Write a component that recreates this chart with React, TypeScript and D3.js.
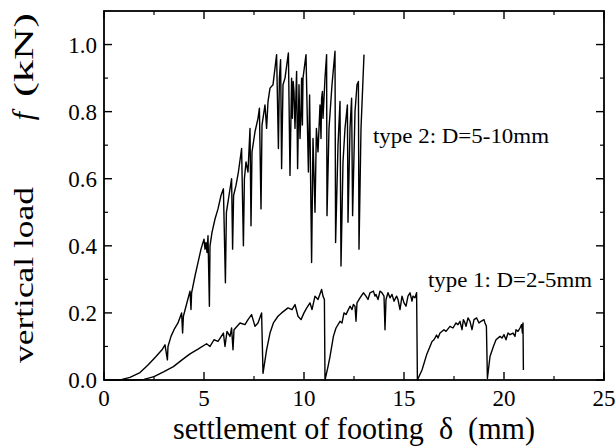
import React from "react";
import * as d3 from "d3";

// [settlement (mm), load (kN)] for type 2: D=5-10mm
const type2Points: [number, number][] = [
  [0, 0], [0.5, 0], [0.9, 0.002], [1.3, 0.008], [1.8, 0.022], [2.2, 0.045], [2.6, 0.07], [2.9, 0.09],
  [3.05, 0.105], [3.17, 0.06], [3.2, 0.1], [3.35, 0.13], [3.5, 0.15], [3.7, 0.17], [3.88, 0.2], [3.93, 0.14],
  [3.97, 0.19], [4.1, 0.22], [4.3, 0.265], [4.35, 0.21], [4.38, 0.26], [4.55, 0.31], [4.7, 0.35], [4.85, 0.39],
  [5.0, 0.42], [5.05, 0.39], [5.1, 0.41], [5.15, 0.38], [5.2, 0.43], [5.27, 0.22], [5.3, 0.4], [5.4, 0.44],
  [5.55, 0.48], [5.7, 0.51], [5.85, 0.55], [5.97, 0.57], [6.07, 0.29], [6.12, 0.5], [6.25, 0.55], [6.38, 0.6],
  [6.43, 0.39], [6.48, 0.55], [6.6, 0.58], [6.72, 0.62], [6.88, 0.69], [6.97, 0.4], [7.02, 0.6], [7.1, 0.65],
  [7.2, 0.62], [7.3, 0.75], [7.35, 0.46], [7.4, 0.68], [7.55, 0.74], [7.7, 0.78], [7.77, 0.81], [7.85, 0.51],
  [7.9, 0.76], [8.05, 0.82], [8.13, 0.75], [8.2, 0.83], [8.3, 0.87], [8.45, 0.88], [8.63, 0.97], [8.72, 0.69],
  [8.77, 0.9], [8.83, 0.955], [8.88, 0.63], [8.95, 0.88], [9.05, 0.9], [9.22, 0.975], [9.3, 0.61], [9.38, 0.9],
  [9.42, 0.78], [9.46, 0.89], [9.5, 0.86], [9.55, 0.75], [9.63, 0.92], [9.68, 0.63], [9.75, 0.88], [9.8, 0.72],
  [9.85, 0.8], [9.88, 0.9], [9.92, 0.76], [9.95, 0.9], [10.1, 0.97], [10.22, 0.62], [10.28, 0.85], [10.38, 0.35],
  [10.45, 0.72], [10.55, 0.5], [10.62, 0.75], [10.7, 0.68], [10.8, 0.82], [10.85, 0.72], [10.88, 0.84], [10.92, 0.86],
  [10.95, 0.78], [11.05, 0.9], [11.13, 0.97], [11.15, 0.49], [11.25, 0.75], [11.4, 0.88], [11.55, 0.98], [11.58, 0.41],
  [11.7, 0.7], [11.8, 0.83], [11.85, 0.34], [11.95, 0.65], [12.05, 0.75], [12.17, 0.82], [12.2, 0.47], [12.3, 0.75],
  [12.38, 0.84], [12.43, 0.49], [12.55, 0.8], [12.65, 0.88], [12.72, 0.89], [12.75, 0.39], [12.85, 0.75], [13.0, 0.97],
];

// [settlement (mm), load (kN)] for type 1: D=2-5mm
const type1Points: [number, number][] = [
  [0, 0], [1.5, 0], [2.0, 0.002], [2.5, 0.01], [3.0, 0.025], [3.47, 0.04], [3.9, 0.06], [4.3, 0.078],
  [4.7, 0.092], [5.13, 0.108], [5.3, 0.1], [5.5, 0.12], [5.7, 0.115], [5.97, 0.14], [6.05, 0.1], [6.15, 0.145],
  [6.3, 0.13], [6.38, 0.155], [6.45, 0.09], [6.5, 0.15], [6.8, 0.17], [7.05, 0.165], [7.2, 0.18], [7.38, 0.195],
  [7.55, 0.16], [7.7, 0.17], [7.88, 0.2], [7.95, 0.02], [8.13, 0.09], [8.3, 0.14], [8.47, 0.17], [8.7, 0.19],
  [8.88, 0.2], [9.2, 0.215], [9.4, 0.21], [9.55, 0.225], [9.7, 0.19], [9.85, 0.18], [10.0, 0.2], [10.13, 0.214],
  [10.3, 0.23], [10.4, 0.21], [10.55, 0.25], [10.7, 0.24], [10.88, 0.27], [10.95, 0.25], [11.02, 0.24], [11.05, 0.0],
  [11.2, 0.04], [11.3, 0.07], [11.47, 0.13], [11.6, 0.155], [11.8, 0.175], [11.9, 0.17], [12.0, 0.2], [12.1, 0.195],
  [12.3, 0.22], [12.4, 0.21], [12.47, 0.225], [12.55, 0.22], [12.6, 0.175], [12.65, 0.23], [12.8, 0.245], [12.97, 0.26],
  [13.1, 0.25], [13.2, 0.24], [13.3, 0.26], [13.47, 0.265], [13.55, 0.25], [13.6, 0.255], [13.7, 0.24], [13.8, 0.265],
  [13.9, 0.26], [14.0, 0.25], [14.05, 0.15], [14.1, 0.24], [14.2, 0.26], [14.3, 0.245], [14.4, 0.255], [14.5, 0.235],
  [14.63, 0.25], [14.7, 0.24], [14.8, 0.21], [14.9, 0.25], [15.0, 0.23], [15.1, 0.22], [15.2, 0.25], [15.3, 0.26],
  [15.4, 0.235], [15.45, 0.25], [15.55, 0.245], [15.63, 0.26], [15.67, 0.0], [15.9, 0.03], [16.13, 0.075], [16.3, 0.1],
  [16.4, 0.115], [16.5, 0.12], [16.63, 0.134], [16.7, 0.125], [16.8, 0.14], [17.0, 0.15], [17.1, 0.145], [17.3, 0.16],
  [17.45, 0.155], [17.6, 0.17], [17.7, 0.165], [17.8, 0.175], [17.9, 0.15], [17.97, 0.18], [18.05, 0.17], [18.1, 0.16],
  [18.2, 0.185], [18.3, 0.175], [18.4, 0.15], [18.5, 0.18], [18.63, 0.185], [18.75, 0.17], [18.85, 0.175], [19.0, 0.18],
  [19.05, 0.17], [19.12, 0.16], [19.17, 0.005], [19.3, 0.07], [19.47, 0.1], [19.6, 0.12], [19.8, 0.13], [19.9, 0.125],
  [20.0, 0.135], [20.1, 0.12], [20.2, 0.14], [20.3, 0.135], [20.45, 0.14], [20.55, 0.13], [20.6, 0.15], [20.7, 0.145],
  [20.8, 0.155], [20.88, 0.165], [20.92, 0.14], [20.95, 0.17], [20.97, 0.03],
];

const xTicks = [0, 5, 10, 15, 20, 25];
const xMinorTicks = [2.5, 7.5, 12.5, 17.5, 22.5];
const yTicks = [0, 0.2, 0.4, 0.6, 0.8, 1.0];
const yMinorTicks = [0.1, 0.3, 0.5, 0.7, 0.9];
const xTickLabels = ["0", "5", "10", "15", "20", "25"];
const yTickLabels = ["0.0", "0.2", "0.4", "0.6", "0.8", "1.0"];

const W = 616;
const H = 446;
const left = 104;
const right = 604;
const top = 11;
const bottom = 380;
const FONT = "'Liberation Serif', 'Times New Roman', serif";

export default function App() {
  const x = d3.scaleLinear().domain([0, 25]).range([left, right]);
  const y = d3.scaleLinear().domain([0, 1.1]).range([bottom, top]);
  const line = d3
    .line<[number, number]>()
    .x((d) => x(d[0]))
    .y((d) => y(d[1]));
  const major = 8;
  const minor = 4;
  return (
    <svg
      width={W}
      height={H}
      style={{ position: "absolute", left: 0, top: 0, background: "#fff" }}
    >
      <rect x={0} y={0} width={W} height={H} fill="#fff" />
      <path d={line(type2Points) || ""} fill="none" stroke="#000" strokeWidth={1.4} strokeLinejoin="round" />
      <path d={line(type1Points) || ""} fill="none" stroke="#000" strokeWidth={1.4} strokeLinejoin="round" />
      <rect
        x={left}
        y={top}
        width={right - left}
        height={bottom - top}
        fill="none"
        stroke="#000"
        strokeWidth={1.8}
      />
      {xTicks.map((t) => (
        <g key={"xt" + t}>
          <line x1={x(t)} x2={x(t)} y1={bottom} y2={bottom - major} stroke="#000" strokeWidth={1.4} />
          <line x1={x(t)} x2={x(t)} y1={top} y2={top + major} stroke="#000" strokeWidth={1.4} />
        </g>
      ))}
      {xMinorTicks.map((t) => (
        <g key={"xm" + t}>
          <line x1={x(t)} x2={x(t)} y1={bottom} y2={bottom - minor} stroke="#000" strokeWidth={1.2} />
          <line x1={x(t)} x2={x(t)} y1={top} y2={top + minor} stroke="#000" strokeWidth={1.2} />
        </g>
      ))}
      {yTicks.map((t) => (
        <g key={"yt" + t}>
          <line x1={left} x2={left + major} y1={y(t)} y2={y(t)} stroke="#000" strokeWidth={1.4} />
          <line x1={right} x2={right - major} y1={y(t)} y2={y(t)} stroke="#000" strokeWidth={1.4} />
        </g>
      ))}
      {yMinorTicks.map((t) => (
        <g key={"ym" + t}>
          <line x1={left} x2={left + minor} y1={y(t)} y2={y(t)} stroke="#000" strokeWidth={1.2} />
          <line x1={right} x2={right - minor} y1={y(t)} y2={y(t)} stroke="#000" strokeWidth={1.2} />
        </g>
      ))}
      {xTicks.map((t, i) => (
        <text
          key={"xl" + t}
          x={x(t)}
          y={406}
          textAnchor="middle"
          fontFamily={FONT}
          fontSize={23}
          fill="#000"
        >
          {xTickLabels[i]}
        </text>
      ))}
      {yTicks.map((t, i) => (
        <text
          key={"yl" + t}
          x={97}
          y={y(t) + 8}
          textAnchor="end"
          fontFamily={FONT}
          fontSize={23}
          fill="#000"
        >
          {yTickLabels[i]}
        </text>
      ))}
      <text
        x={173}
        y={439}
        fontFamily={FONT}
        fontSize={32}
        textLength={362}
        lengthAdjust="spacingAndGlyphs"
        fill="#000"
      >
        {"settlement of footing\u00a0\u00a0δ\u00a0\u00a0(mm)"}
      </text>
      <g transform="translate(33,0) rotate(-90)">
        <text
          x={-363}
          y={0}
          fontFamily={FONT}
          fontSize={27}
          textLength={176}
          lengthAdjust="spacingAndGlyphs"
          fill="#000"
        >
          vertical load
        </text>
        <text x={-116} y={0} textAnchor="middle" fontFamily={FONT} fontSize={30} fontStyle="italic" fill="#000">
          f
        </text>
        <text
          x={-97}
          y={0}
          fontFamily={FONT}
          fontSize={27}
          textLength={84}
          lengthAdjust="spacingAndGlyphs"
          fill="#000"
        >
          (kN)
        </text>
      </g>
      <text
        x={373}
        y={143}
        fontFamily={FONT}
        fontSize={21}
        textLength={176}
        lengthAdjust="spacingAndGlyphs"
        fill="#000"
      >
        type 2: D=5-10mm
      </text>
      <text
        x={428}
        y={287}
        fontFamily={FONT}
        fontSize={21}
        textLength={164}
        lengthAdjust="spacingAndGlyphs"
        fill="#000"
      >
        type 1: D=2-5mm
      </text>
    </svg>
  );
}
